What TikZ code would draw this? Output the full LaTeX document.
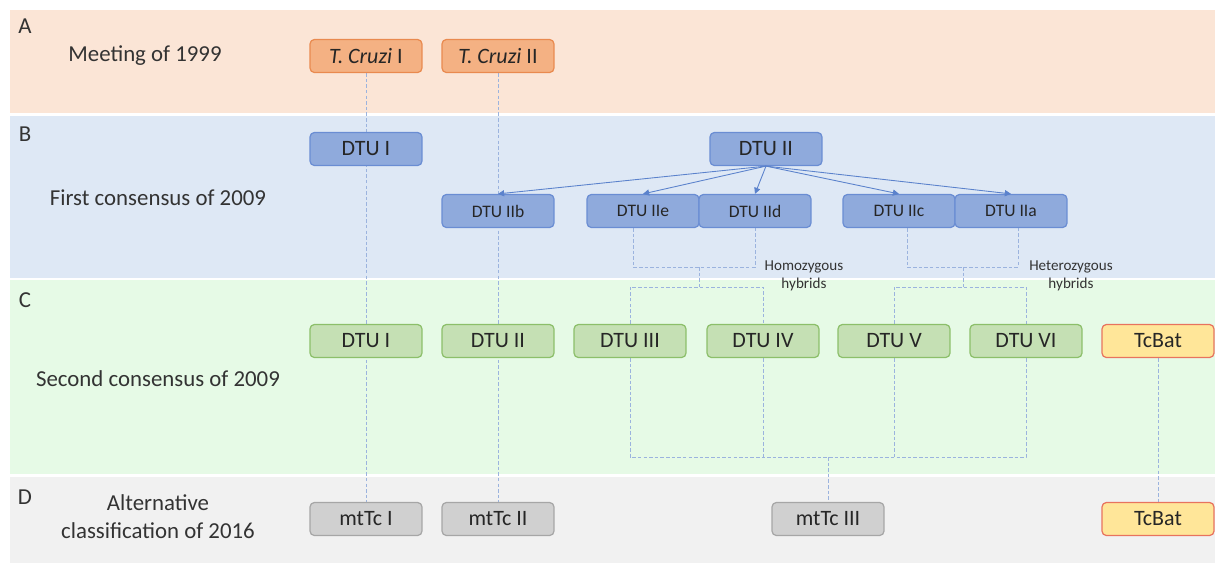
\documentclass[tikz,border=0pt]{standalone}
\usepackage{fontspec}
\setmainfont{Carlito}
\usetikzlibrary{arrows.meta}
\definecolor{bandA}{HTML}{FBE5D6}
\definecolor{bandB}{HTML}{DEE8F5}
\definecolor{bandC}{HTML}{E6FAE6}
\definecolor{bandD}{HTML}{F1F1F1}
\definecolor{txt}{HTML}{333333}
\definecolor{orFill}{HTML}{F4B183}
\definecolor{orDraw}{HTML}{E98A4F}
\definecolor{blFill}{HTML}{8FAADC}
\definecolor{blDraw}{HTML}{6A8DD3}
\definecolor{grFill}{HTML}{C5E0B4}
\definecolor{grDraw}{HTML}{8CBF6A}
\definecolor{gyFill}{HTML}{D0D0D0}
\definecolor{gyDraw}{HTML}{A6A6A6}
\definecolor{ylFill}{HTML}{FFE699}
\definecolor{ylDraw}{HTML}{E8735E}
\definecolor{linkcol}{HTML}{9BB3DE}
\definecolor{arrowcol}{HTML}{5B82CC}
\pgfdeclarelayer{bands}
\pgfdeclarelayer{links}
\pgfsetlayers{bands,links,main}
\tikzset{
    box/.style={rectangle,rounded corners=2.5pt,minimum width=2.24cm,minimum height=0.66cm,inner sep=0pt,line width=0.7pt,text=black!85,font=\fontsize{12.5}{14}\selectfont},
    orbox/.style={box,fill=orFill,draw=orDraw},
    blbox/.style={box,fill=blFill,draw=blDraw},
    subbox/.style={blbox,font=\fontsize{10}{12}\selectfont},
    grbox/.style={box,fill=grFill,draw=grDraw},
    gybox/.style={box,fill=gyFill,draw=gyDraw},
    ylbox/.style={box,fill=ylFill,draw=ylDraw},
    rowlabel/.style={text=txt,font=\fontsize{13}{16}\selectfont,align=center},
    link/.style={draw=linkcol,line width=0.5pt,dash pattern=on 2pt off 1.2pt},
    split/.style={draw=arrowcol,line width=0.5pt,-{Triangle[length=3.5pt,width=3.5pt]}},
    note/.style={text=txt,font=\fontsize{8.6}{10.2}\selectfont,align=center}
}
\begin{document}
\begin{tikzpicture}[x=0.02cm,y=-0.02cm]
    \useasboundingbox (0,0) rectangle (1215,566);
    \begin{pgfonlayer}{bands}
        \fill[bandA] (10,10) rectangle (1215,113);
        \fill[bandB] (10,116) rectangle (1215,278);
        \fill[bandC] (10,280) rectangle (1215,474);
        \fill[bandD] (10,477) rectangle (1215,563);
    \end{pgfonlayer}
    \node[rowlabel] (labA) at (25,26) {A};
    \node[rowlabel] (labB) at (25,134) {B};
    \node[rowlabel] (labC) at (25,300) {C};
    \node[rowlabel] (labD) at (25,497) {D};
    \node[rowlabel] (meet) at (145,56) {Meeting of 1999};
    \node[rowlabel] (first) at (158,198) {First consensus of 2009};
    \node[rowlabel] (second) at (158,379) {Second consensus of 2009};
    \node[rowlabel] (alter) at (158,517) {Alternative\\classification of 2016};
    \node[orbox] (tcI) at (366,56) {\textit{T. Cruzi} I};
    \node[orbox] (tcII) at (498,56) {\textit{T. Cruzi} II};
    \node[blbox] (bI) at (366,149) {DTU I};
    \node[blbox] (bII) at (766,149) {DTU II};
    \node[subbox] (bIIb) at (498,211) {DTU IIb};
    \node[subbox] (bIIe) at (643,211) {DTU IIe};
    \node[subbox] (bIId) at (755,211) {DTU IId};
    \node[subbox] (bIIc) at (899,211) {DTU IIc};
    \node[subbox] (bIIa) at (1011,211) {DTU IIa};
    \node[note] (homo) at (804,276) {Homozygous\\hybrids};
    \node[note] (hetero) at (1071,276) {Heterozygous\\hybrids};
    \node[grbox] (cI) at (366,341) {DTU I};
    \node[grbox] (cII) at (498,341) {DTU II};
    \node[grbox] (cIII) at (630,341) {DTU III};
    \node[grbox] (cIV) at (763,341) {DTU IV};
    \node[grbox] (cV) at (894,341) {DTU V};
    \node[grbox] (cVI) at (1026,341) {DTU VI};
    \node[ylbox] (cBat) at (1158,341) {TcBat};
    \node[gybox] (dI) at (366,519) {mtTc I};
    \node[gybox] (dII) at (498,519) {mtTc II};
    \node[gybox] (dIII) at (828,519) {mtTc III};
    \node[ylbox] (dBat) at (1158,519) {TcBat};
    \coordinate (homoTop) at (699,267);
    \coordinate (homoBot) at (699,287);
    \coordinate (heteroTop) at (963,267);
    \coordinate (heteroBot) at (963,287);
    \coordinate (merge) at (828,457);
    \foreach \t in {bIIb,bIIe,bIId,bIIc,bIIa}
        \draw[split] (bII.south) -- (\t.north);
    \begin{pgfonlayer}{links}
        \draw[link] (tcI.south) -- (dI.north);
        \draw[link] (tcII.south) -- (dII.north);
        \draw[link] (cBat.south) -- (dBat.north);
        \draw[link] (bIIe.south -| 633,0) -- (633,267) -- (bIId.south |- homoTop) -- (bIId.south);
        \draw[link] (homoTop) -- (homoBot);
        \draw[link] (cIII.north) -- (cIII.north |- homoBot) -- (cIV.north |- homoBot) -- (cIV.north);
        \draw[link] (bIIc.south -| 907,0) -- (907,267) -- (1018,267) -- (bIIa.south -| 1018,0);
        \draw[link] (heteroTop) -- (heteroBot);
        \draw[link] (cV.north) -- (cV.north |- heteroBot) -- (cVI.north |- heteroBot) -- (cVI.north);
        \draw[link] (cIII.south) -- (cIII.south |- merge) -- (cVI.south |- merge) -- (cVI.south);
        \draw[link] (cIV.south) -- (cIV.south |- merge);
        \draw[link] (cV.south) -- (cV.south |- merge);
        \draw[link] (merge) -- (dIII.north);
    \end{pgfonlayer}
\end{tikzpicture}
\end{document}
